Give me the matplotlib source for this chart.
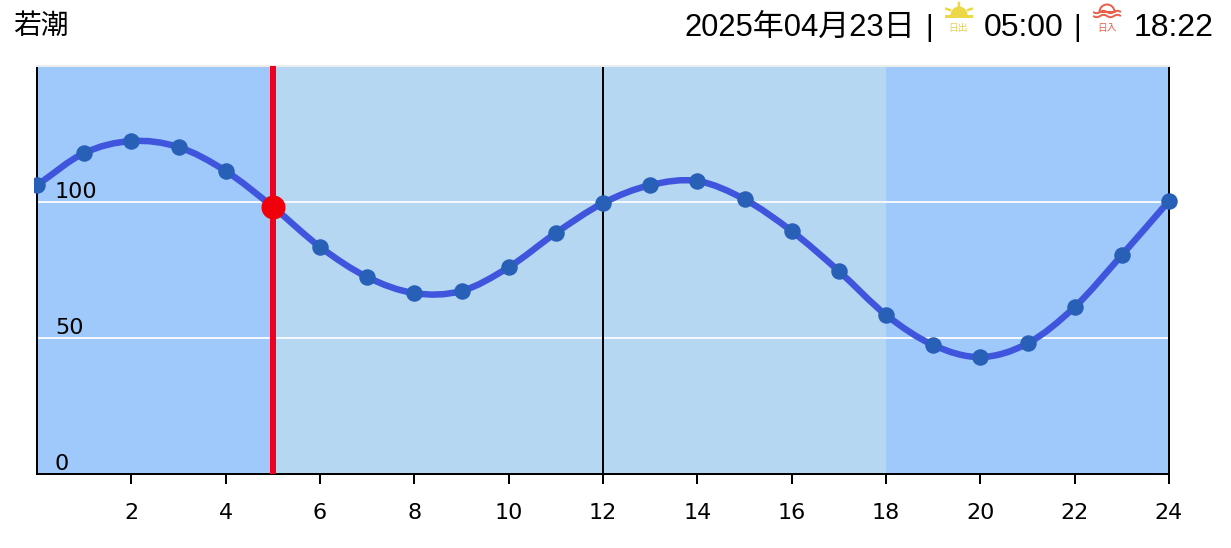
import matplotlib
matplotlib.use('Agg')
import matplotlib.pyplot as plt
import numpy as np
from matplotlib.patches import Wedge
from matplotlib.path import Path
from matplotlib.patches import PathPatch
from matplotlib.transforms import Bbox

plt.rcParams['font.family'] = ['DejaVu Sans']
HEAD_FONT = ['Liberation Sans', 'Noto Sans CJK JP']

# Tide level per hour
hours = list(range(25))
tide = [106.2, 118, 122.4, 120.2, 111.4, 98.2, 83.5, 72.4, 66.5, 67.3, 76, 88.6, 99.6,
        106.2, 107.7, 101, 89.3, 74.6, 58.5, 47.4, 43, 48, 61.4, 80.5, 100.4]
x_ticks = [2, 4, 6, 8, 10, 12, 14, 16, 18, 20, 22, 24]
y_ticks = [0, 50, 100]
sunrise_hour = 5
sunset_hour = 18
now_hour = 5
now_level = 98.2

title = '若潮'
date_label = '2025年04月23日'
sunrise_label = '05:00'
sunset_label = '18:22'

W, H = 1231, 548
DARK = '#9fc9fb'
LIGHT = '#b6d7f1'
px = 72 / 100  # one pixel in points

fig = plt.figure(figsize=(W / 100, H / 100), dpi=100)
ax = fig.add_axes([37 / W, 1 - 474 / H, (1169 - 37) / W, (474 - 66) / H])
ax.set_xlim(0, 24)
ax.set_ylim(0, 150)
ax.set_facecolor(DARK)
ax.axvspan(sunrise_hour, sunset_hour, color=LIGHT, lw=0, zorder=0)

# grid
for v in [50, 100]:
    ax.axhline(v, color='#f4f8fc', lw=2 * px, zorder=1)
ax.axvline(12, color='black', lw=2 * px, zorder=1)

# smoothed tide line, bezier through the hourly values
xs = np.array(hours, dtype=float)
ys = np.array(tide, dtype=float)
tx = np.gradient(xs)
ty = np.gradient(ys)
verts = [(xs[0], ys[0])]
codes = [Path.MOVETO]
for i in range(len(xs) - 1):
    verts += [(xs[i] + tx[i] / 3, ys[i] + ty[i] / 3),
              (xs[i + 1] - tx[i + 1] / 3, ys[i + 1] - ty[i + 1] / 3),
              (xs[i + 1], ys[i + 1])]
    codes += [Path.CURVE4] * 3
ax.add_patch(PathPatch(Path(verts, codes), fill=False, edgecolor='#4055dd',
                       lw=6.5 * px, zorder=3, capstyle='round', joinstyle='round'))

# hourly points, the first one is cut a little on the left
dots, = ax.plot(hours, tide, 'o', color='#2860b8', ms=16.5 * px, mew=0, zorder=4)
dots.set_clip_box(Bbox([[34, 0], [W, H]]))

# current time
ax.axvline(now_hour, color='#f0001e', lw=6 * px, zorder=5)
ax.plot([now_hour], [now_level], 'o', color='#f0000a', ms=24 * px, mew=0, zorder=6, clip_on=False)

# axes
for s in ['left', 'right', 'bottom']:
    ax.spines[s].set_linewidth(2 * px)
    ax.spines[s].set_color('black')
ax.spines['top'].set_linewidth(2 * px)
ax.spines['top'].set_color('#ececec')

ax.set_xticks(x_ticks)
ax.tick_params(axis='x', length=10 * px, width=2 * px, pad=19 * px, labelsize=16)
ax.set_yticks(y_ticks)
ax.tick_params(axis='y', length=0, pad=-18 * px, labelsize=16)
for lab in ax.get_yticklabels():
    lab.set_ha('left')
    lab.set_va('bottom')

# header drawn in pixel coordinates
top = fig.add_axes([0, 0, 1, 1], facecolor='none', zorder=10)
top.set_xlim(0, W)
top.set_ylim(H, 0)
top.axis('off')

top.text(13, 27, title, fontsize=20, family=HEAD_FONT, va='center', ha='left')
top.text(684, 28, date_label, fontsize=22.3, family=HEAD_FONT, va='center', ha='left')
top.text(929, 28, '|', fontsize=21, family=HEAD_FONT, va='center', ha='center')
top.text(984, 28, sunrise_label, fontsize=23, family=HEAD_FONT, va='center', ha='left')
top.text(1077, 28, '|', fontsize=21, family=HEAD_FONT, va='center', ha='center')
top.text(1134, 28, sunset_label, fontsize=23, family=HEAD_FONT, va='center', ha='left')

# sunrise icon
YEL = '#ecd846'
top.add_patch(Wedge((959, 15), 8.5, 180, 360, color=YEL, lw=0))
top.plot([946, 971], [16, 16], color=YEL, lw=3 * px)
for a in [-155, -90, -25]:
    ca, sa = np.cos(np.radians(a)), np.sin(np.radians(a))
    top.plot([959 + 10 * ca, 959 + 14 * ca], [13 + 7 * sa, 13 + 10 * sa], color=YEL, lw=2.5 * px)
top.text(958, 28, '日出', fontsize=7, color='#e6cf55', family=HEAD_FONT, ha='center', va='center')

# sunset icon
RED = '#e8604c'
top.add_patch(Wedge((1107, 12), 7.5, 180, 360, facecolor='none', edgecolor=RED, lw=2 * px))
wave = np.linspace(-13, 13, 60)
for y0 in [12, 16]:
    top.plot(1107 + wave, y0 + 1.2 * np.sin(wave / 2.2), color=RED, lw=2 * px)
top.text(1107, 28, '日入', fontsize=7, color=RED, family=HEAD_FONT, ha='center', va='center')

fig.savefig('out.png', dpi=100)
